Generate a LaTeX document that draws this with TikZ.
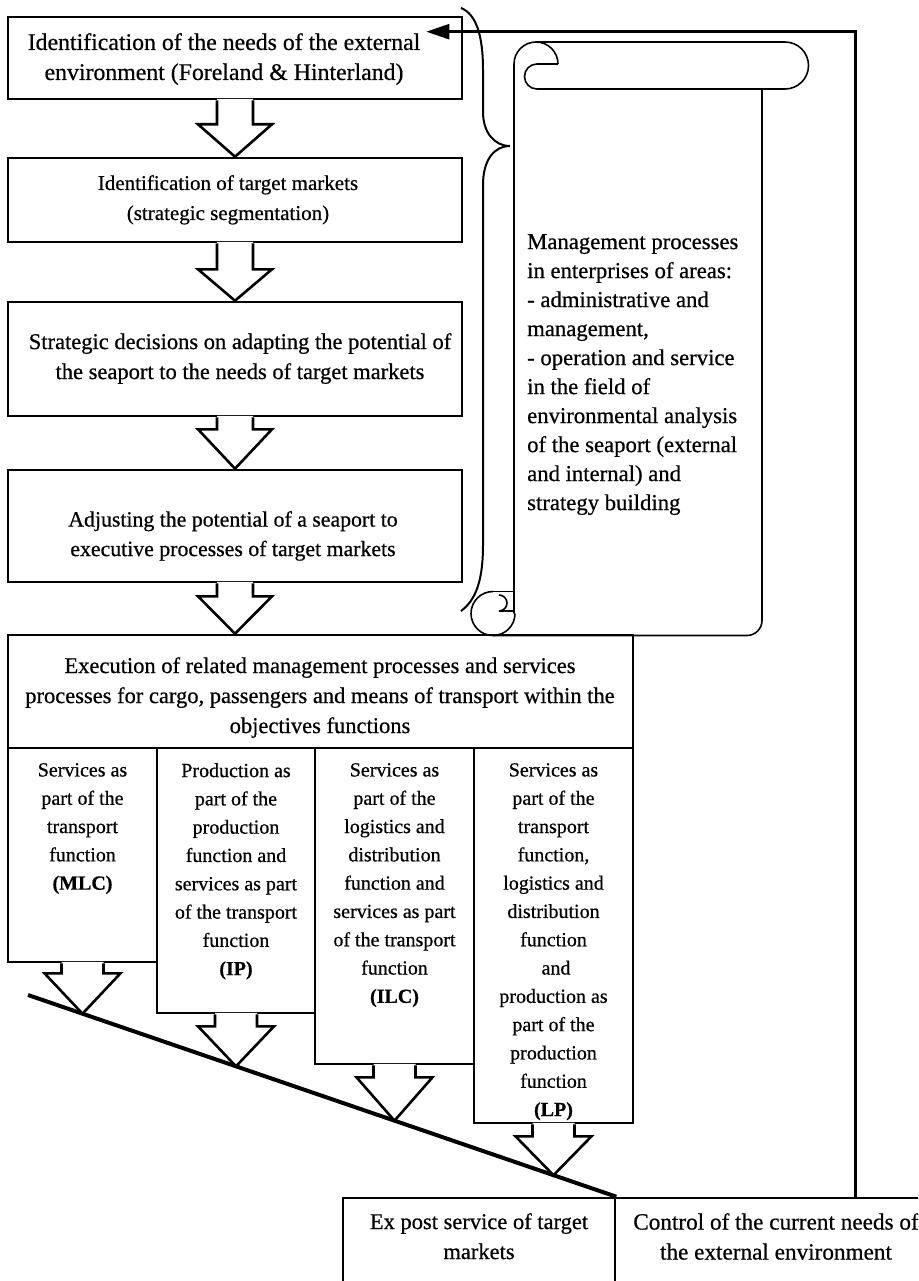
\documentclass[tikz,border=0pt]{standalone}
\usepackage{fontspec}
\setmainfont{Liberation Serif}[FakeBold=0.6]
\usetikzlibrary{calc,arrows.meta}
\tikzset{
  box/.style={draw, line width=2.6pt, rectangle, inner sep=0pt},
  txt/.style={inner sep=0pt, align=center, anchor=north, font=\fontsize{22.5}{30}\selectfont},
  ctxt/.style={inner sep=0pt, align=center, anchor=north, font=\fontsize{20}{28.3}\selectfont},
  stxt/.style={inner sep=0pt, align=left, anchor=north west, font=\fontsize{22.7}{29}\selectfont},
  barrow/.style={line width=2.6pt, line join=miter},
  scrollline/.style={line width=1.6pt},
  bracestyle/.style={line width=2pt},
  slope/.style={line width=4pt},
  feedback/.style={line width=2.6pt, -{Triangle[length=23pt,width=15pt]}},
}
% #1 start anchor, #2 tip, #3 shaft length, #4 half shaft, #5 half head
\newcommand\barr[5]{%
  \fill[white] let \p1=(#1), \p2=(#2) in (\x2-#4,\y1+1.5pt) -- (\x2-#4,\y1-#3) -- (\x2-#5,\y1-#3) -- (\x2,\y2) -- (\x2+#5,\y1-#3) -- (\x2+#4,\y1-#3) -- (\x2+#4,\y1+1.5pt) -- cycle;
  \draw[barrow] let \p1=(#1), \p2=(#2) in (\x2-#4,\y1) -- (\x2-#4,\y1-#3) -- (\x2-#5,\y1-#3) -- (\x2,\y2) -- (\x2+#5,\y1-#3) -- (\x2+#4,\y1-#3) -- (\x2+#4,\y1);}
\begin{document}
\begin{tikzpicture}[x=1pt,y=1pt]
\useasboundingbox (0,0) rectangle (918,-1281);
\clip (0,0) rectangle (918,-1281);

% main boxes
\node[box, minimum width=454pt, minimum height=82pt] (b1) at (235,-58) {};
\node[box, minimum width=454pt, minimum height=84pt] (b2) at (235,-200) {};
\node[box, minimum width=454pt, minimum height=114pt] (b3) at (235,-359) {};
\node[box, minimum width=454pt, minimum height=112pt] (b4) at (235,-526) {};
\node[box, minimum width=625pt, minimum height=113pt] (b5) at (320.5,-691.5) {};

\node[txt, font=\fontsize{23.8}{30}\selectfont] (t1) at (224,-33) {Identification of the needs of the external\\environment (Foreland \& Hinterland)};
\node[txt, font=\fontsize{21}{30}\selectfont] (t2) at (228,-175) {Identification of target markets\\(strategic segmentation)};
\node[txt] (t3) at (240,-333) {Strategic decisions on adapting the potential of\\the seaport to the needs of target markets};
\node[txt, font=\fontsize{21.8}{29.5}\selectfont] (t4) at (233,-511) {Adjusting the potential of a seaport to\\executive processes of target markets};
\node[txt] (t5) at (320,-657) {Execution of related management processes and services\\processes for cargo, passengers and means of transport within the\\objectives functions};

% column boxes
\node[box, minimum width=149pt, minimum height=214pt] (c1) at (82.5,-855) {};
\node[box, minimum width=158pt, minimum height=265pt] (c2) at (236,-880.5) {};
\node[box, minimum width=159pt, minimum height=316pt] (c3) at (394.5,-906) {};
\node[box, minimum width=159pt, minimum height=375pt] (c4) at (553.5,-935.5) {};

\node[ctxt] (ct1) at (82.5,-763) {Services as\\part of the\\transport\\function\\\textbf{(MLC)}};
\node[ctxt] (ct2) at (236,-763) {Production as\\part of the\\production\\function and\\services as part\\of the transport\\function\\\textbf{(IP)}};
\node[ctxt] (ct3) at (394.5,-763) {Services as\\part of the\\logistics and\\distribution\\function and\\services as part\\of the transport\\function\\\textbf{(ILC)}};
\node[ctxt] (ct4) at (553.5,-763) {Services as\\part of the\\transport\\function,\\logistics and\\distribution\\function\\\hspace*{5pt}and\\production as\\part of the\\production\\function\\\textbf{(LP)}};

% bottom boxes
\node[box, minimum width=272pt, minimum height=112pt] (ex) at (479,-1254) {};
\node[box, minimum width=330pt, minimum height=112pt] (ctrl) at (780,-1254) {};
\node[txt] (ext) at (479,-1213) {Ex post service of target\\markets};
\node[txt, font=\fontsize{23.2}{30}\selectfont] (ctrlt) at (776,-1213) {Control of the current needs of\\the external environment};

% sloped line and tip points
\coordinate (s0) at (28,-995);
\draw[slope] (s0) -- (ex.north east);
\coordinate (c1b) at ($(c1.south)+(0,-200)$);
\coordinate (c2b) at ($(c2.south)+(0,-200)$);
\coordinate (c3b) at ($(c3.south)+(0,-200)$);
\coordinate (c4b) at ($(c4.south)+(0,-200)$);
\coordinate (tp1) at (intersection of s0--ex.north east and c1.south--c1b);
\coordinate (tp2) at (intersection of s0--ex.north east and c2.south--c2b);
\coordinate (tp3) at (intersection of s0--ex.north east and c3.south--c3b);
\coordinate (tp4) at (intersection of s0--ex.north east and c4.south--c4b);

% block arrows
\barr{b1.south}{b1.south |- b2.north}{24pt}{18pt}{37pt}
\barr{b2.south}{b2.south |- b3.north}{26pt}{18pt}{37pt}
\barr{b3.south}{b3.south |- b4.north}{12pt}{18pt}{37pt}
\barr{b4.south}{b4.south |- b5.north}{13pt}{18pt}{37pt}
\barr{c1.south}{tp1}{10pt}{21pt}{38pt}
\barr{c2.south}{tp2}{12pt}{21pt}{38pt}
\barr{c3.south}{tp3}{12pt}{21pt}{38pt}
\barr{c4.south}{tp4}{12pt}{21pt}{38pt}

% scroll
\draw[scrollline] (558,-64) arc[start angle=0,end angle=180,radius=22] -- (514,-613.5);
\draw[scrollline] (558,-64) -- (537,-64) arc[start angle=90,end angle=270,radius=12.5] -- (785,-89) arc[start angle=-90,end angle=90,radius=23.5] -- (536,-42);
\draw[scrollline, rounded corners=15pt] (762,-89) -- (762,-635.5) -- (493,-635.5);
\draw[scrollline] (493,-591.5) arc[start angle=90,end angle=360,radius=22];
\draw[scrollline] (493,-591.5) -- (514,-591.5);
\draw[scrollline] (514,-611) -- (499,-611) arc[start angle=-90,end angle=90,radius=8];
\node[stxt] (st) at (527,-234) {Management processes\\in enterprises of areas:\\- administrative and\\management,\\- operation and service\\in the field of\\environmental analysis\\of the seaport (external\\and internal) and\\strategy building};

% brace
\draw[bracestyle] (461,-8) .. controls (476,-14) and (483,-35) .. (483,-70) -- (483,-112) .. controls (483,-132) and (494,-146) .. (510,-146) .. controls (494,-146) and (483,-160) .. (483,-185) -- (483,-545) .. controls (483,-580) and (476,-600) .. (461,-611);

% feedback
\coordinate (fb) at ($(ctrl.north west)+(242,0)$);
\coordinate (fbin) at ($(b1.north east)+(-37,-16)$);
\draw[feedback] (fb) |- (fbin);
\end{tikzpicture}
\end{document}
